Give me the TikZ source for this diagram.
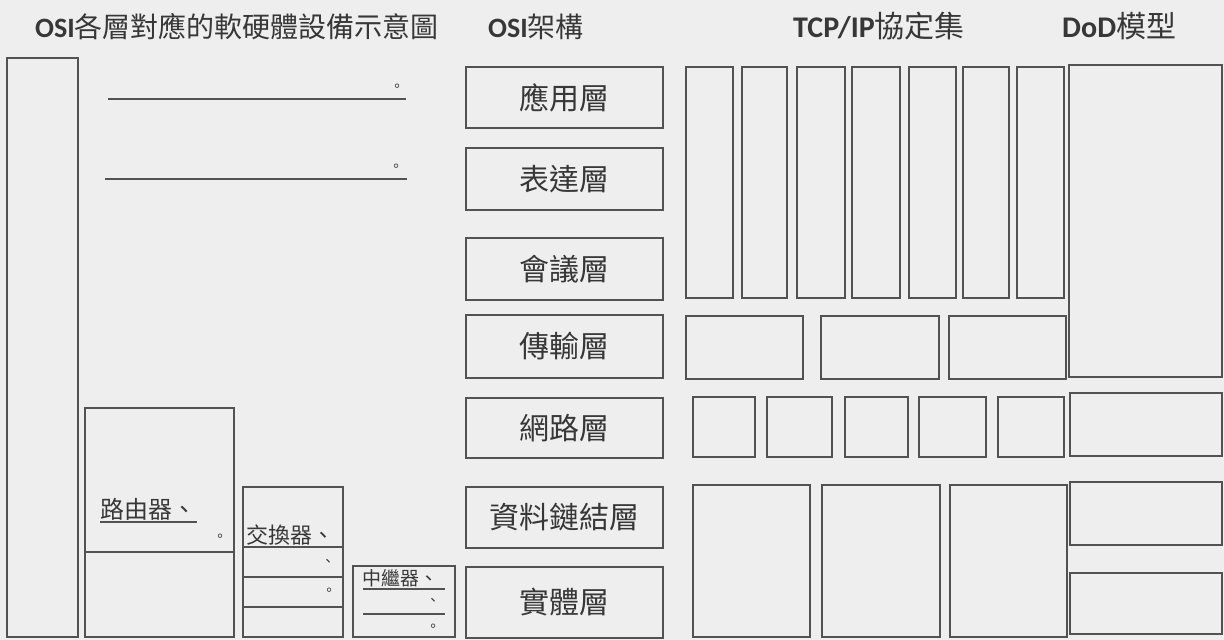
\documentclass[tikz,border=0pt]{standalone}
\usepackage{fontspec}
\newfontfamily\cjk{Noto Sans CJK TC}
\newfontfamily\lat{Carlito}
\usetikzlibrary{fit}
\definecolor{bgc}{RGB}{238,238,238}
\definecolor{linec}{RGB}{82,82,82}
\definecolor{txtc}{RGB}{55,55,55}
\tikzset{
  box/.style={draw=linec, line width=2.7pt},
  rule/.style={draw=linec, line width=1.4pt},
  title/.style={anchor=base west, inner sep=0pt, text=txtc, font=\fontsize{28}{30}\selectfont},
  layer/.style={draw=linec, line width=2.7pt, inner sep=0pt, text=txtc, font=\cjk\fontsize{30}{32}\selectfont},
  dev/.style={anchor=base west, inner sep=0pt, text=txtc},
  punct/.style={inner sep=0pt, text=txtc, font=\cjk\fontsize{14}{15}\selectfont}
}
\newcommand\bx[3]{\node[box, inner sep=0pt, fit={#2 #3}] (#1) {};}
\begin{document}
\begin{tikzpicture}[x=1pt,y=-1pt]
\fill[bgc] (0,0) rectangle (1224,640);
\useasboundingbox (0,0) rectangle (1224,640);

% titles
\node[title] (t1) at (35,37) {{\lat\bfseries OSI}\cjk 各層對應的軟硬體設備示意圖};
\node[title] (t2) at (488,37) {{\lat\bfseries OSI}\cjk 架構};
\node[title, font=\fontsize{30}{32}\selectfont] (t3) at (793,37) {{\lat\bfseries TCP/IP}\cjk 協定集};
\node[title, font=\fontsize{30}{32}\selectfont] (t4) at (1062,37) {{\lat\bfseries DoD}\cjk 模型};

% left column
\bx{tall}{(7,58)}{(78,637)}
\draw[rule] (108,99) -- (406,99);
\node[punct] (p1) at (397,88) {。};
\draw[rule] (105,179) -- (407,179);
\node[punct] (p2) at (396,168) {。};

% router
\bx{router}{(85,408)}{(234,637)}
\node[dev, font=\cjk\fontsize{24}{26}\selectfont] (rt) at (100,518) {路由器、};
\draw[rule] (100,522) -- (197,522);
\node[punct] (p3) at (220,538) {。};
\draw[rule] (85,552) -- (234,552);

% switch
\bx{switch}{(243,487)}{(343,637)}
\node[dev, font=\cjk\fontsize{22}{24}\selectfont] (sw) at (246,543) {交換器、};
\draw[rule] (243,547) -- (343,547);
\node[punct] (p4) at (328,563) {、};
\draw[rule] (243,577) -- (343,577);
\node[punct] (p5) at (329,592) {。};
\draw[rule] (243,607) -- (343,607);

% repeater
\bx{repeater}{(353,566)}{(455,637)}
\node[dev, font=\cjk\fontsize{19}{21}\selectfont] (rp) at (362,585) {中繼器、};
\draw[rule] (363,589) -- (445,589);
\node[punct] (p6) at (433,602) {、};
\draw[rule] (363,614) -- (445,614);
\node[punct] (p7) at (433,628) {。};

% OSI layers
\node[layer, minimum width=197pt, minimum height=61pt] (l7) at (564.5,97.5) {應用層};
\node[layer, minimum width=197pt, minimum height=62pt] (l6) at (564.5,179) {表達層};
\node[layer, minimum width=197pt, minimum height=62pt] (l5) at (564.5,269) {會議層};
\node[layer, minimum width=197pt, minimum height=63pt] (l4) at (564.5,346.5) {傳輸層};
\node[layer, minimum width=197pt, minimum height=60pt] (l3) at (564.5,428) {網路層};
\node[layer, minimum width=197pt, minimum height=61pt] (l2) at (564.5,517.5) {資料鏈結層};
\node[layer, minimum width=197pt, minimum height=71pt] (l1) at (564.5,602.5) {實體層};

% TCP/IP application columns
\bx{a1}{(686,67)}{(733,298)}
\bx{a2}{(742,67)}{(787,298)}
\bx{a3}{(797,67)}{(845,298)}
\bx{a4}{(852,67)}{(900,298)}
\bx{a5}{(909,67)}{(956,298)}
\bx{a6}{(963,67)}{(1009,298)}
\bx{a7}{(1017,67)}{(1064,298)}
% transport
\bx{tr1}{(686,316)}{(803,379)}
\bx{tr2}{(821,316)}{(939,379)}
\bx{tr3}{(949,316)}{(1066,379)}
% network
\bx{n1}{(693,397)}{(755,457)}
\bx{n2}{(767,397)}{(832,457)}
\bx{n3}{(845,397)}{(908,457)}
\bx{n4}{(919,397)}{(986,457)}
\bx{n5}{(998,397)}{(1064,457)}
% link/physical
\bx{d1}{(693,485)}{(810,637)}
\bx{d2}{(822,485)}{(940,637)}
\bx{d3}{(950,485)}{(1067,637)}

% DoD
\bx{dod1}{(1069,65)}{(1222,377)}
\bx{dod2}{(1070,393)}{(1222,456)}
\bx{dod3}{(1070,482)}{(1222,545)}
\bx{dod4}{(1070,573)}{(1222,634)}
\end{tikzpicture}
\end{document}
